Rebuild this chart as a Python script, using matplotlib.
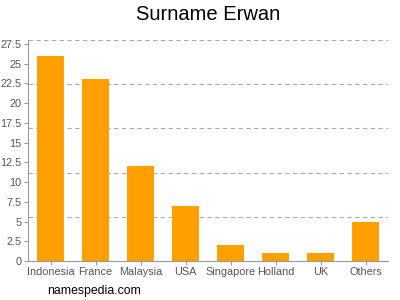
import matplotlib
matplotlib.use("Agg")
import matplotlib.pyplot as plt
import numpy as np

# data
countries = ["Indonesia", "France", "Malaysia", "USA", "Singapore", "Holland", "UK", "Others"]
counts = [26, 23, 12, 7, 2, 1, 1, 5]
yticks = [0, 2.5, 5, 7.5, 10, 12.5, 15, 17.5, 20, 22.5, 25, 27.5]
ytick_labels = ["0", "2.5", "5", "7.5", "10", "12.5", "15", "17.5", "20", "22.5", "25", "27.5"]
grid_levels = [5.6, 11.2, 16.8, 22.4, 28]

plt.rcParams['font.family'] = ['Liberation Sans', 'DejaVu Sans']

fig = plt.figure(figsize=(4, 3), dpi=100)
ax = fig.add_axes([28 / 400, 1 - 261 / 300, 360 / 400, 221 / 300])

x = np.arange(len(countries))
for g in grid_levels:
    ax.axhline(g, color="#aaaaaa", lw=0.8, ls=(0, (4, 3)), zorder=0)
ax.bar(x, counts, width=0.62, color="#ff9f00", zorder=2)

ax.set_xlim(-0.5, len(countries) - 0.5)
ax.set_ylim(0, 28)
ax.set_xticks(x)
ax.set_xticklabels(countries)
ax.set_yticks(yticks)
ax.set_yticklabels(ytick_labels)
ax.tick_params(axis="both", colors="#999999", labelcolor="#555555", labelsize=7.8,
               length=3, width=0.8, pad=1.5)

for s in ["top", "right"]:
    ax.spines[s].set_visible(False)
for s in ["left", "bottom"]:
    ax.spines[s].set_color("#999999")
    ax.spines[s].set_linewidth(0.8)

fig.text(208 / 400, 1 - 15 / 300, "Surname Erwan", ha="center", va="center", fontsize=14.5, color="#000000")
fig.text(47 / 400, 1 - 291 / 300, "namespedia.com", ha="left", va="center", fontsize=8.8, color="#000000")

fig.savefig("out.png", dpi=100)
